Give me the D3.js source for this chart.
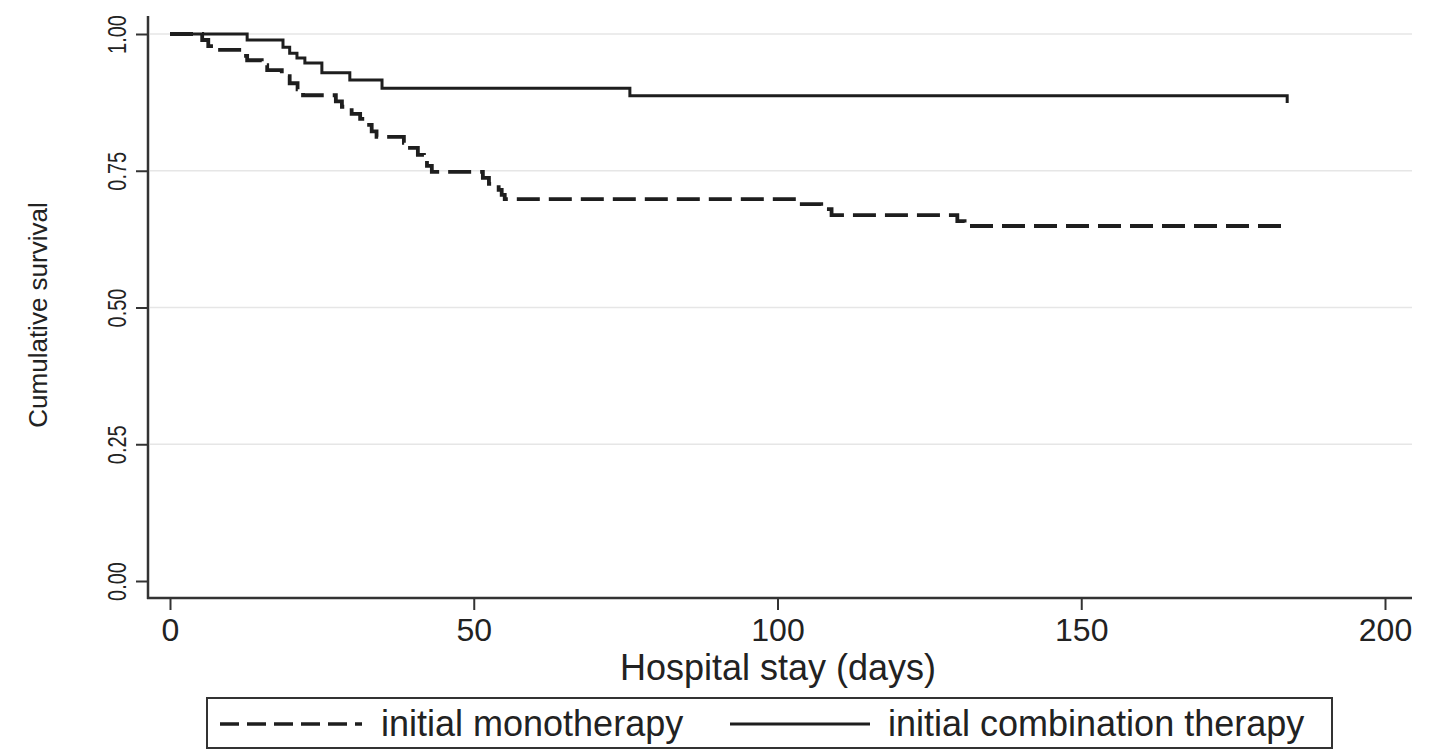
<!DOCTYPE html>
<meta charset="utf-8">
<style>
body { margin: 0; background: #fff; }
text { font-family: "Liberation Sans", Arial, sans-serif; fill: #222; }
</style>
<body>
<script src="https://d3js.org/d3.v7.min.js"></script>
<script>

// Kaplan-Meier steps (days, cumulative survival)
var monoDays = [0, 5.3, 6.3, 7.2, 11.8, 12.7, 15.1, 16.0, 18.4, 19.7, 21.0, 21.9, 27.3, 28.3, 29.9, 31.3, 32.2, 33.2, 34.0,
                38.5, 39.5, 40.8, 41.8, 42.3, 43.1, 51.5, 52.5, 54.1, 54.6, 55.1, 103.6, 107.2, 108.9, 129.6, 130.8, 184];
var monoSurv = [1, 0.989, 0.978, 0.971, 0.960, 0.952, 0.943, 0.934, 0.923, 0.910, 0.899, 0.888, 0.877, 0.867, 0.854, 0.845, 0.834, 0.822, 0.812,
                0.801, 0.792, 0.779, 0.768, 0.759, 0.748, 0.737, 0.726, 0.715, 0.706, 0.698, 0.689, 0.680, 0.669, 0.658, 0.649, 0.649];

var combDays = [0, 12.7, 18.6, 19.7, 20.9, 22.2, 25.0, 29.6, 34.9, 75.7, 183.9];
var combSurv = [1, 0.989, 0.976, 0.965, 0.956, 0.947, 0.929, 0.916, 0.901, 0.887, 0.874];

var xTicks = [0, 50, 100, 150, 200];
var yTicks = [0, 0.25, 0.5, 0.75, 1];
var legendLabels = ["initial monotherapy", "initial combination therapy"];

var W = 1437, H = 751;
var axisX = 148, axisY = 598;

var x = d3.scaleLinear().domain([0, 200]).range([170, 1385]);
var y = d3.scaleLinear().domain([0, 1]).range([581, 34]);

var svg = d3.select("body").append("svg")
    .attr("width", W)
    .attr("height", H);

// gridlines
svg.append("g").selectAll("line")
    .data(yTicks.filter(function(d) { return d > 0; }))
  .enter().append("line")
    .attr("x1", axisX + 2).attr("x2", 1412)
    .attr("y1", function(d) { return y(d); })
    .attr("y2", function(d) { return y(d); })
    .attr("stroke", "#e6e6e6")
    .attr("stroke-width", 1.5);

// axes
var yAxis = d3.axisLeft(y).tickValues(yTicks).tickFormat(d3.format(".2f")).tickSize(12);
var xAxis = d3.axisBottom(x).tickValues(xTicks).tickFormat(d3.format("d")).tickSize(12).tickPadding(8);

var gy = svg.append("g").attr("transform", "translate(" + axisX + ",0)").call(yAxis);
var gx = svg.append("g").attr("transform", "translate(0," + axisY + ")").call(xAxis);

[gx, gy].forEach(function(g) {
  g.select(".domain").remove();
  g.selectAll(".tick line").attr("stroke", "#333").attr("stroke-width", 2);
  g.selectAll("text").attr("fill", "#222").attr("font-family", "Liberation Sans, Arial, sans-serif");
});

gy.selectAll("text")
    .attr("font-size", 25)
    .attr("text-anchor", "middle")
    .attr("transform", "translate(-22,0) rotate(-90) scale(0.8,1)")
    .attr("x", 0).attr("y", 0).attr("dy", 0);

gx.selectAll("text").attr("font-size", 32).attr("dy", "0.72em");

svg.append("line")
    .attr("x1", axisX).attr("x2", axisX).attr("y1", 16).attr("y2", axisY + 1)
    .attr("stroke", "#333").attr("stroke-width", 2.5);
svg.append("line")
    .attr("x1", axisX - 1).attr("x2", 1412).attr("y1", axisY).attr("y2", axisY)
    .attr("stroke", "#333").attr("stroke-width", 2.5);

// axis titles
svg.append("text")
    .attr("transform", "translate(47,315) rotate(-90)")
    .attr("text-anchor", "middle")
    .attr("font-size", 26)
    .text("Cumulative survival");

svg.append("text")
    .attr("x", 778).attr("y", 680)
    .attr("text-anchor", "middle")
    .attr("font-size", 36)
    .text("Hospital stay (days)");

// curves
var line = d3.line()
    .x(function(d) { return x(d[0]); })
    .y(function(d) { return y(d[1]); })
    .curve(d3.curveStepAfter);

var combData = d3.zip(combDays, combSurv);
combData.splice(combData.length - 1, 0, [combDays[combDays.length - 1], combSurv[combSurv.length - 2]]);
var monoData = d3.zip(monoDays, monoSurv);

svg.append("path")
    .datum(combData)
    .attr("d", line)
    .attr("fill", "none")
    .attr("stroke", "#1e1e1e")
    .attr("stroke-width", 3);

svg.append("path")
    .datum(monoData)
    .attr("d", line)
    .attr("fill", "none")
    .attr("stroke", "#1e1e1e")
    .attr("stroke-width", 3.8)
    .attr("stroke-dasharray", "23,9");

// legend
var lg = svg.append("g");
lg.append("rect")
    .attr("x", 207).attr("y", 698).attr("width", 1125).attr("height", 50)
    .attr("fill", "#fff").attr("stroke", "#333").attr("stroke-width", 2);

lg.append("line")
    .attr("x1", 220).attr("x2", 362).attr("y1", 724).attr("y2", 724)
    .attr("stroke", "#1e1e1e").attr("stroke-width", 3.6)
    .attr("stroke-dasharray", "19,8");
lg.append("text")
    .attr("x", 381).attr("y", 736)
    .attr("font-size", 36)
    .text(legendLabels[0]);

lg.append("line")
    .attr("x1", 730).attr("x2", 870).attr("y1", 724).attr("y2", 724)
    .attr("stroke", "#1e1e1e").attr("stroke-width", 3);
lg.append("text")
    .attr("x", 888).attr("y", 736)
    .attr("font-size", 36)
    .text(legendLabels[1]);

</script>
</body>
